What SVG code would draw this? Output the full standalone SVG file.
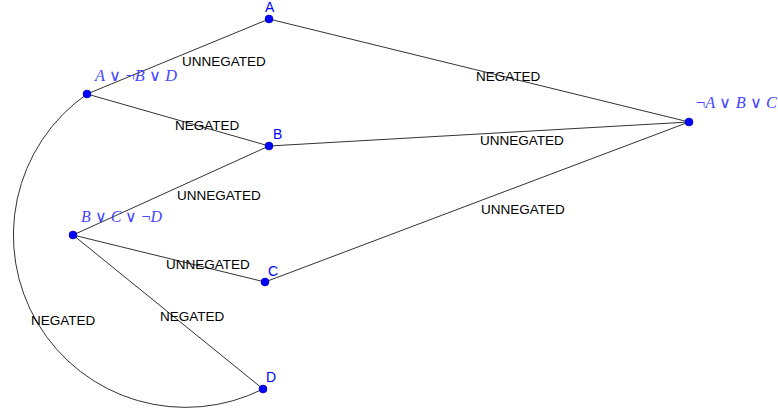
<svg xmlns="http://www.w3.org/2000/svg" width="778" height="414" viewBox="0 0 778 414">
<style>
.e{stroke:#333;stroke-width:1;fill:none}
.lbl{font-family:"Liberation Sans",Arial,sans-serif;font-size:13.5px;fill:#000}
.pt{fill:#0000ff;stroke:#00008a;stroke-width:0.5}
.name{font-family:"Liberation Sans",Arial,sans-serif;font-size:14px;fill:#0000ff}
.f{font-family:"Liberation Serif","DejaVu Serif",serif;font-size:16px;fill:#4646ff}
.i{font-style:italic}
.op{font-family:"DejaVu Sans ExtraLight","DejaVu Sans",sans-serif;font-weight:200}
</style>
<rect width="778" height="414" fill="#fff"/>
<g id="connectors">
<line class="e" x1="87" y1="94" x2="269" y2="19"/>
<line class="e" x1="269" y1="19" x2="689" y2="122"/>
<line class="e" x1="87" y1="94" x2="269" y2="146"/>
<line class="e" x1="269" y1="146" x2="689" y2="122"/>
<line class="e" x1="73" y1="235" x2="269" y2="146"/>
<line class="e" x1="73" y1="235" x2="265" y2="282"/>
<line class="e" x1="265" y1="282" x2="689" y2="122"/>
<line class="e" x1="73" y1="235" x2="263" y2="389"/>
<path class="e" d="M87,94 A172.2,172.2 0 0 0 263,389"/>
<text class="lbl" x="182" y="66">UNNEGATED</text>
<text class="lbl" x="476" y="81">NEGATED</text>
<text class="lbl" x="175" y="130">NEGATED</text>
<text class="lbl" x="480" y="145">UNNEGATED</text>
<text class="lbl" x="177" y="200">UNNEGATED</text>
<text class="lbl" x="481" y="214">UNNEGATED</text>
<text class="lbl" x="166" y="269">UNNEGATED</text>
<text class="lbl" x="160" y="321">NEGATED</text>
<text class="lbl" x="31" y="325">NEGATED</text>
</g>
<g id="A">
<circle class="pt" cx="269" cy="19" r="4"/>
<text class="name" x="265" y="12">A</text>
</g>
<g id="B">
<circle class="pt" cx="269" cy="146" r="4"/>
<text class="name" x="273" y="139">B</text>
</g>
<g id="C">
<circle class="pt" cx="265" cy="282" r="4"/>
<text class="name" x="268" y="276">C</text>
</g>
<g id="D">
<circle class="pt" cx="263" cy="389" r="4"/>
<text class="name" x="266" y="382">D</text>
</g>
<g id="AorNotBorD">
<circle class="pt" cx="87" cy="94" r="4"/>
<text class="f" x="95" y="81" textLength="82" lengthAdjust="spacingAndGlyphs"><tspan class="i">A</tspan> <tspan class="op">∨</tspan> ¬<tspan class="i">B</tspan> <tspan class="op">∨</tspan> <tspan class="i">D</tspan></text>
</g>
<g id="BorCorNotD">
<circle class="pt" cx="73" cy="235" r="4"/>
<text class="f" x="81" y="221.5" textLength="81" lengthAdjust="spacingAndGlyphs"><tspan class="i">B</tspan> <tspan class="op">∨</tspan> <tspan class="i">C</tspan> <tspan class="op">∨</tspan> ¬<tspan class="i">D</tspan></text>
</g>
<g id="NotAorBorC">
<circle class="pt" cx="689" cy="122" r="4"/>
<text class="f" x="696" y="108" textLength="81" lengthAdjust="spacingAndGlyphs">¬<tspan class="i">A</tspan> <tspan class="op">∨</tspan> <tspan class="i">B</tspan> <tspan class="op">∨</tspan> <tspan class="i">C</tspan></text>
</g>
</svg>
